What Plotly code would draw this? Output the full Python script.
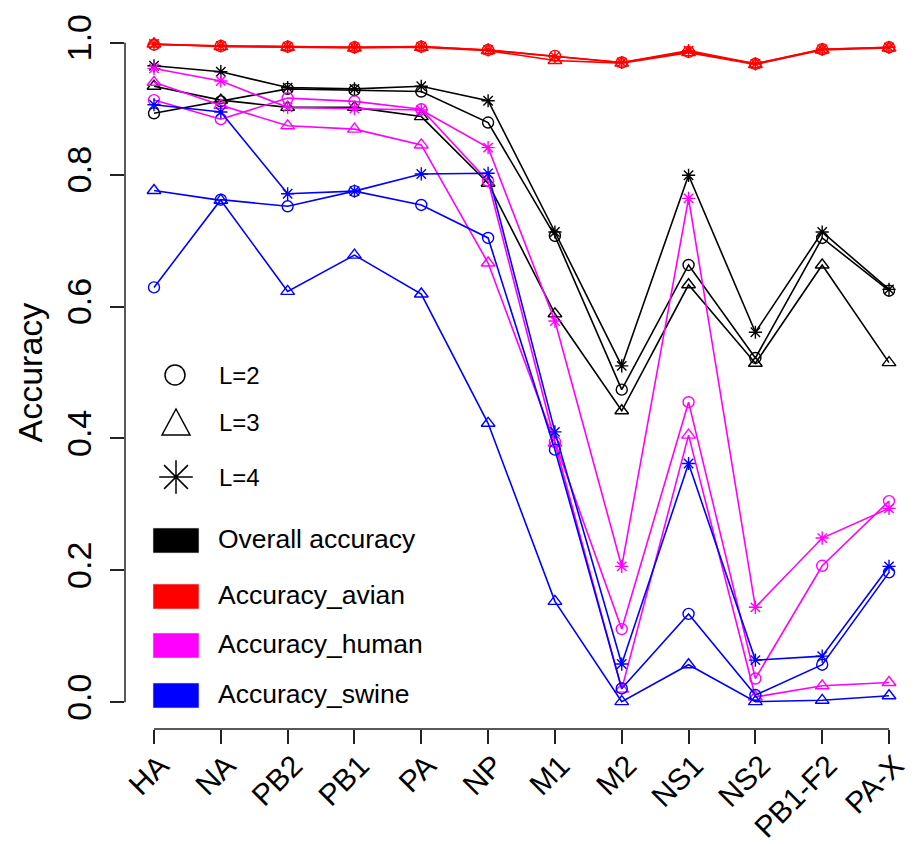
import plotly.graph_objects as go

categories = ["HA", "NA", "PB2", "PB1", "PA", "NP", "M1", "M2", "NS1", "NS2", "PB1-F2", "PA-X"]

overall_L2 = [0.893, 0.911, 0.930, 0.928, 0.926, 0.879, 0.707, 0.474, 0.663, 0.522, 0.704, 0.624]
overall_L3 = [0.934, 0.913, 0.902, 0.902, 0.888, 0.787, 0.589, 0.442, 0.633, 0.514, 0.663, 0.515]
overall_L4 = [0.965, 0.956, 0.932, 0.930, 0.934, 0.912, 0.713, 0.510, 0.799, 0.561, 0.713, 0.626]

avian_L2 = [0.997, 0.995, 0.994, 0.993, 0.994, 0.989, 0.980, 0.970, 0.986, 0.968, 0.990, 0.993]
avian_L3 = [0.998, 0.994, 0.993, 0.992, 0.993, 0.988, 0.973, 0.969, 0.985, 0.967, 0.989, 0.992]
avian_L4 = [0.998, 0.995, 0.994, 0.993, 0.994, 0.989, 0.979, 0.970, 0.988, 0.968, 0.990, 0.993]

human_L2 = [0.913, 0.884, 0.916, 0.911, 0.899, 0.790, 0.395, 0.111, 0.455, 0.036, 0.207, 0.305]
human_L3 = [0.940, 0.905, 0.874, 0.869, 0.845, 0.666, 0.393, 0.020, 0.405, 0.008, 0.025, 0.030]
human_L4 = [0.961, 0.942, 0.902, 0.900, 0.898, 0.841, 0.578, 0.206, 0.764, 0.144, 0.249, 0.294]

swine_L2 = [0.629, 0.762, 0.752, 0.775, 0.754, 0.704, 0.383, 0.021, 0.134, 0.011, 0.057, 0.197]
swine_L3 = [0.776, 0.761, 0.623, 0.678, 0.619, 0.423, 0.153, 0.001, 0.057, 0.001, 0.003, 0.010]
swine_L4 = [0.906, 0.895, 0.771, 0.775, 0.801, 0.802, 0.410, 0.058, 0.362, 0.064, 0.070, 0.206]

y_ticks = [0.0, 0.2, 0.4, 0.6, 0.8, 1.0]
y_ticktext = ["0.0", "0.2", "0.4", "0.6", "0.8", "1.0"]

group_names = ["Overall accuracy", "Accuracy_avian", "Accuracy_human", "Accuracy_swine"]
group_colors = ["#000000", "#FF0000", "#FF00FF", "#0000FF"]
level_names = ["L=2", "L=3", "L=4"]
level_symbols = ["circle-open", "triangle-up-open", "asterisk-open"]
level_sizes = [11, 12, 11]

series = [
    [overall_L2, overall_L3, overall_L4],
    [avian_L2, avian_L3, avian_L4],
    [human_L2, human_L3, human_L4],
    [swine_L2, swine_L3, swine_L4],
]

FONT = "Liberation Sans, Arial, Helvetica, sans-serif"
# the page body has an 8px default margin; work in screen pixels and convert
OFF = 8
SW, SH = 914, 844                 # screen window
W, H = SW - OFF, SH - OFF         # figure size
S_LEFT, S_TOP, S_BOTTOM, S_RIGHT = 125, 16, 729, 914   # plot area in screen px
ML, MT = S_LEFT - OFF, S_TOP - OFF
MB = H - (S_BOTTOM - OFF)
MR = W - (S_RIGHT - OFF)
plot_w = W - ML - MR
plot_h = H - MT - MB

# pixel calibration (category index 0 at screen px 154, step 66.82 px; y 0 at 702.3, 1 at 42.7)
px_per_cat = 66.82
x0_px = 154.0
xr0 = 0 - (x0_px - S_LEFT) / px_per_cat
xr1 = xr0 + plot_w / px_per_cat
y0_px, y1_px = 702.3, 42.7
ppu = y0_px - y1_px
yr0 = -(S_BOTTOM - y0_px) / ppu
yr1 = 1 + (y1_px - S_TOP) / ppu

fig = go.Figure()

for gi, gname in enumerate(group_names):
    for li, lname in enumerate(level_names):
        fig.add_trace(go.Scatter(
            x=categories, y=series[gi][li],
            mode="lines+markers",
            name=f"{gname} {lname}",
            line=dict(color=group_colors[gi], width=1.6),
            marker=dict(symbol=level_symbols[li], size=level_sizes[li],
                        color=group_colors[gi],
                        line=dict(color=group_colors[gi], width=1.4)),
            showlegend=False,
        ))

# ---- in-plot legends drawn on an overlay axis in screen pixels ----
leg_marker_x = [175, 176, 176]
leg_marker_y = [375, 422, 477]
leg_text_x = 217
fig.add_trace(go.Scatter(
    x=[leg_marker_x[0]], y=[leg_marker_y[0]], xaxis="x2", yaxis="y2",
    mode="markers", showlegend=False, hoverinfo="skip",
    marker=dict(symbol="circle-open", size=20, color="#000", line=dict(color="#000", width=1.5)),
))
fig.add_trace(go.Scatter(
    x=[leg_marker_x[2]], y=[leg_marker_y[2]], xaxis="x2", yaxis="y2",
    mode="markers", showlegend=False, hoverinfo="skip",
    marker=dict(symbol="asterisk-open", size=28, color="#000", line=dict(color="#000", width=1.5)),
))

shapes = []
# triangle glyph for L=3
tx, ty = leg_marker_x[1], leg_marker_y[1]
shapes.append(dict(type="path", xref="x2", yref="y2",
                   path=f"M{tx-14},{ty+13} L{tx+14},{ty+13} L{tx},{ty-13} Z",
                   line=dict(color="#000", width=1.5), fillcolor="rgba(0,0,0,0)"))

annotations = []
for i, lname in enumerate(level_names):
    annotations.append(dict(x=leg_text_x, y=leg_marker_y[i], xref="x2", yref="y2",
                            text=lname, showarrow=False, xanchor="left", yanchor="middle",
                            font=dict(family=FONT, size=24, color="#000")))

box_y = [540.5, 596.5, 645.5, 695.5]
for i, gname in enumerate(group_names):
    shapes.append(dict(type="rect", xref="x2", yref="y2",
                       x0=153, x1=199, y0=box_y[i] - 12.5, y1=box_y[i] + 12.5,
                       fillcolor=group_colors[i], line=dict(color="#dddddd", width=0.6)))
    annotations.append(dict(x=leg_text_x - 1, y=box_y[i] - 1.5, xref="x2", yref="y2",
                            text=gname, showarrow=False, xanchor="left", yanchor="middle",
                            font=dict(family=FONT, size=26.5, color="#000")))

# axis lines spanning only the tick range (R style)
shapes.append(dict(type="line", xref="paper", yref="y", x0=0, x1=0, y0=0, y1=1,
                   line=dict(color="#222", width=1.5)))
shapes.append(dict(type="line", xref="x", yref="paper", x0=categories[0], x1=categories[-1],
                   y0=0, y1=0, line=dict(color="#222", width=1.5)))

# y-axis title
annotations.append(dict(x=(29 - S_LEFT) / plot_w, y=0.5, xref="paper", yref="paper",
                        text="Accuracy", textangle=-90, showarrow=False,
                        xanchor="center", yanchor="middle",
                        font=dict(family=FONT, size=34, color="#000")))

fig.update_layout(
    width=W, height=H,
    margin=dict(l=ML, r=MR, t=MT, b=MB, pad=0),
    paper_bgcolor="white", plot_bgcolor="white",
    showlegend=False,
    xaxis=dict(type="category", categoryorder="array", categoryarray=categories,
               range=[xr0, xr1], showgrid=False, zeroline=False, showline=False,
               ticks="outside", ticklen=14, tickwidth=1.5, tickcolor="#222",
               tickangle=-45, tickfont=dict(family=FONT, size=30, color="#000"),
               ticklabelstandoff=-8, ticklabelshift=6,
               automargin=False, fixedrange=True),
    yaxis=dict(range=[yr0, yr1], tickvals=y_ticks, ticktext=y_ticktext,
               showgrid=False, zeroline=False, showline=False,
               ticks="outside", ticklen=14, tickwidth=1.5, tickcolor="#222",
               tickangle=-90, tickfont=dict(family=FONT, size=34, color="#000"),
               ticklabelstandoff=5,
               automargin=False, fixedrange=True),
    xaxis2=dict(overlaying="x", range=[S_LEFT, S_RIGHT], visible=False, fixedrange=True),
    yaxis2=dict(overlaying="y", range=[S_BOTTOM, S_TOP], visible=False, fixedrange=True),
    shapes=shapes,
    annotations=annotations,
)

fig.write_html("out.html")
